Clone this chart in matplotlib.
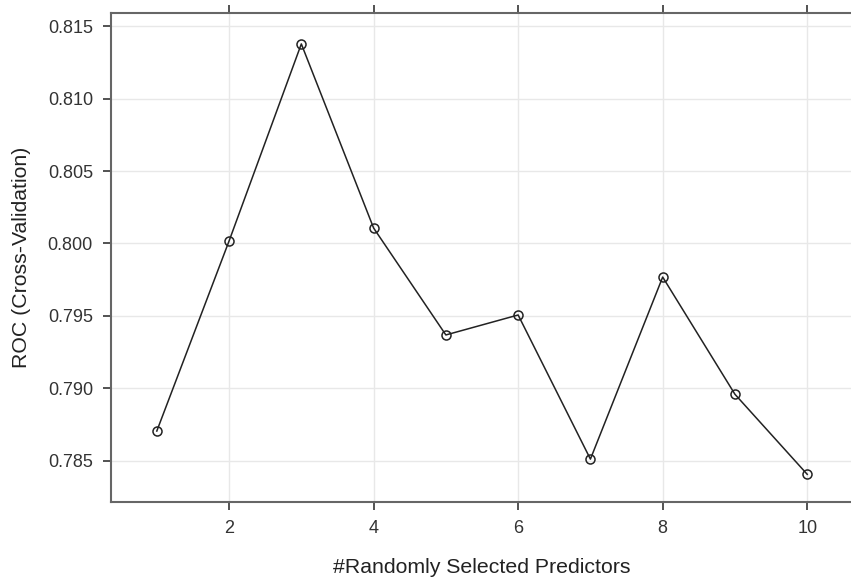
import matplotlib.pyplot as plt

# mtry vs cross-validated ROC (caret/lattice style)
mtry = [1, 2, 3, 4, 5, 6, 7, 8, 9, 10]
roc = [0.78704, 0.80017, 0.81379, 0.80107, 0.79368,
       0.79506, 0.78510, 0.79768, 0.78958, 0.78405]
x_ticks = [2, 4, 6, 8, 10]
y_ticks = [0.785, 0.790, 0.795, 0.800, 0.805, 0.810, 0.815]

plt.rcParams["font.family"] = ["Liberation Sans", "DejaVu Sans"]

fig = plt.figure(figsize=(8.51, 5.83), dpi=100)
ax = fig.add_axes([0.1304, 0.139, 0.872, 0.8388])

ax.plot(mtry, roc, color="#222222", linewidth=1.1,
        marker="o", markersize=6.5, markerfacecolor="none",
        markeredgecolor="#222222", markeredgewidth=1.1)

ax.set_xlim(0.366, 10.634)
ax.set_ylim(0.78214, 0.81593)
ax.set_xticks(x_ticks)
ax.set_yticks(y_ticks)
ax.set_yticklabels([f"{v:.3f}" for v in y_ticks])
ax.grid(True, color="#e8e8e8", linewidth=1.0)
ax.set_axisbelow(True)

for side in ["left", "bottom", "top", "right"]:
    ax.spines[side].set_color("#666666")
    ax.spines[side].set_linewidth(1.5)

ax.tick_params(axis="both", direction="out", length=6, width=1.3,
               color="#444444", labelsize=13, labelcolor="#333333", pad=7)
ax.tick_params(axis="x", top=True, labeltop=False)

ax.set_xlabel("#Randomly Selected Predictors", fontsize=15.3, color="#222222", labelpad=15)
ax.set_ylabel("ROC (Cross-Validation)", fontsize=15.3, color="#222222", labelpad=12)

fig.savefig("out.png", dpi=100)
